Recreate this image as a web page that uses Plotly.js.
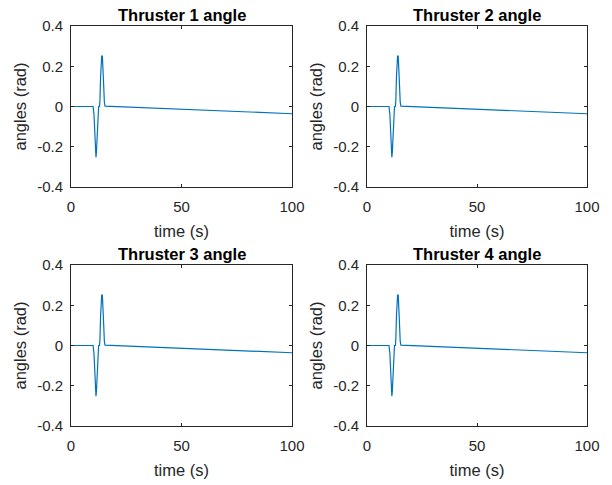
<!DOCTYPE html>
<html><head><meta charset="utf-8">
<script src="https://cdn.plot.ly/plotly-3.0.1.min.js"></script>
<style>html,body{margin:0;padding:0;background:#fff}#c{width:612px;height:485px}</style>
</head><body><div id="c"></div>
<script>
const titles = ["Thruster 1 angle","Thruster 2 angle","Thruster 3 angle","Thruster 4 angle"];
const time = [0,10,10.4,10.8,11.1,11.3,11.5,11.8,12.2,12.5,12.9,13.1,13.4,13.7,13.9,14.2,14.5,14.8,15.1,15.4,100];
const angle1 = [0,0,-0.04,-0.15,-0.23,-0.252,-0.23,-0.14,-0.03,0,0,0.03,0.15,0.24,0.25,0.25,0.2,0.1,0.02,0.002,-0.036];
const angle2 = [0,0,-0.04,-0.15,-0.23,-0.252,-0.23,-0.14,-0.03,0,0,0.03,0.15,0.24,0.25,0.25,0.2,0.1,0.02,0.002,-0.036];
const angle3 = [0,0,-0.04,-0.15,-0.23,-0.252,-0.23,-0.14,-0.03,0,0,0.03,0.15,0.24,0.25,0.25,0.2,0.1,0.02,0.002,-0.036];
const angle4 = [0,0,-0.04,-0.15,-0.23,-0.252,-0.23,-0.14,-0.03,0,0,0.03,0.15,0.24,0.25,0.25,0.2,0.1,0.02,0.002,-0.036];
const series = [angle1, angle2, angle3, angle4];
const yTickVals = [-0.4,-0.2,0,0.2,0.4];
const yTickText = ["-0.4","-0.2","0","0.2","0.4"];
const xTickVals = [0,50,100];
const xTickText = ["0","50","100"];

const W = 612, H = 485;
const xd = [[71/W, 292/W],[367/W, 587/W]];
const yd = [[1-187/H, 1-26/H],[1-426/H, 1-265/H]];
const fam = "Liberation Sans, Arial, sans-serif";
const tickFont = {family:fam, size:15, color:"#262626"};
const labFont = {family:fam, size:16.5, color:"#262626"};

const data = [];
const layout = {
  width:W, height:H, margin:{l:0,r:0,t:0,b:0},
  paper_bgcolor:"#fff", plot_bgcolor:"#fff", showlegend:false,
  font: tickFont, annotations: []
};
for (let i=0;i<4;i++){
  const col = i%2, row = Math.floor(i/2);
  const s = i===0 ? "" : String(i+1);
  data.push({x:time, y:series[i], type:"scatter", mode:"lines",
    line:{color:"#0072BD", width:1.2}, xaxis:"x"+s, yaxis:"y"+s, hoverinfo:"skip"});
  const common = {showgrid:false, zeroline:false, showline:true, mirror:"ticks",
    linecolor:"#262626", linewidth:1, ticks:"inside", ticklen:3, tickcolor:"#262626",
    tickfont:tickFont, fixedrange:true};
  layout["xaxis"+s] = Object.assign({}, common, {domain:xd[col], range:[0,100], anchor:"y"+s,
    tickmode:"array", tickvals:xTickVals, ticktext:xTickText, ticklabelstandoff:6,
    title:{text:"time (s)", font:labFont, standoff:11}});
  layout["yaxis"+s] = Object.assign({}, common, {domain:yd[row], range:[-0.4,0.4], anchor:"x"+s,
    tickmode:"array", tickvals:yTickVals, ticktext:yTickText, ticklabelstandoff:4,
    title:{text:"angles (rad)", font:labFont, standoff:6}});
  layout.annotations.push({text:"<b>"+titles[i]+"</b>", xref:"paper", yref:"paper",
    x:(xd[col][0]+xd[col][1])/2, y:yd[row][1], xanchor:"center", yanchor:"bottom", yshift:0,
    showarrow:false, font:{family:fam, size:16.5, color:"#000"}});
}
Plotly.newPlot("c", data, layout, {staticPlot:true});
</script></body></html>
